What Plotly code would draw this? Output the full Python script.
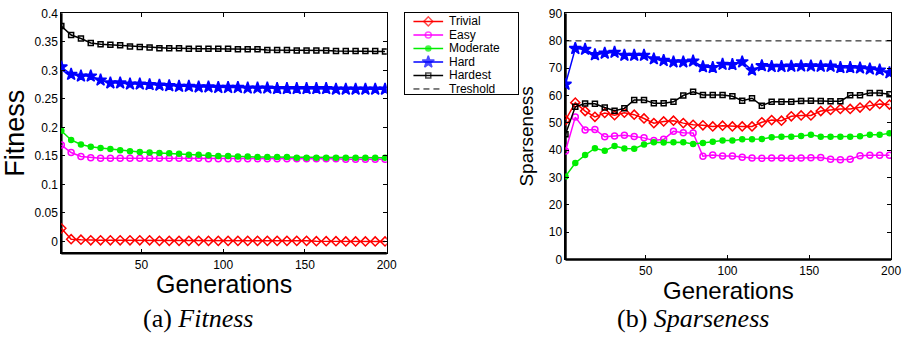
import plotly.graph_objects as go

# Generation index of each recorded sample
generations = [1, 7, 13, 19, 25, 31, 37, 43, 49, 55, 61, 67, 73, 79, 85, 91, 97,
               103, 109, 115, 121, 127, 133, 139, 145, 151, 157, 163, 169, 175,
               181, 187, 193, 199]

# Fitness per difficulty level
fit_trivial = [0.023, 0.004, 0.003, 0.002, 0.002, 0.002, 0.002, 0.002, 0.002, 0.002,
               0.001, 0.001, 0.001, 0.001, 0.001, 0.001, 0.001, 0.001, 0.001, 0.001,
               0.001, 0.001, 0.001, 0.001, 0.001, 0.001, 0.0005, 0.0005, 0.0005, 0.0,
               0.0, 0.0, 0.0, 0.0]
fit_easy = [0.169, 0.156, 0.149, 0.147, 0.146, 0.146, 0.146, 0.146, 0.146, 0.146,
            0.146, 0.146, 0.146, 0.146, 0.146, 0.145, 0.145, 0.145, 0.145, 0.145,
            0.145, 0.145, 0.145, 0.145, 0.145, 0.145, 0.145, 0.145, 0.145, 0.144,
            0.144, 0.144, 0.144, 0.144]
fit_moderate = [0.194, 0.178, 0.170, 0.166, 0.164, 0.162, 0.160, 0.158, 0.157, 0.156,
                0.155, 0.1545, 0.154, 0.152, 0.152, 0.151, 0.150, 0.150, 0.149, 0.149,
                0.148, 0.148, 0.148, 0.148, 0.147, 0.147, 0.147, 0.147, 0.147, 0.147,
                0.147, 0.147, 0.147, 0.147]
fit_hard = [0.306, 0.293, 0.290, 0.290, 0.283, 0.278, 0.278, 0.276, 0.276, 0.275,
            0.274, 0.273, 0.272, 0.272, 0.271, 0.271, 0.270, 0.270, 0.270, 0.269,
            0.269, 0.269, 0.268, 0.268, 0.268, 0.268, 0.268, 0.268, 0.267, 0.267,
            0.267, 0.267, 0.267, 0.267]
fit_hardest = [0.378, 0.362, 0.356, 0.348, 0.346, 0.345, 0.344, 0.342, 0.341, 0.340,
               0.339, 0.339, 0.339, 0.338, 0.338, 0.338, 0.338, 0.338, 0.337, 0.337,
               0.337, 0.336, 0.336, 0.336, 0.335, 0.335, 0.335, 0.335, 0.334, 0.334,
               0.334, 0.334, 0.334, 0.333]

# Sparseness per difficulty level
sp_trivial = [51.0, 57.4, 54.3, 52.2, 53.6, 52.8, 53.7, 53.0, 51.6, 49.9,
              50.5, 50.8, 49.9, 49.3, 49.1, 48.7, 48.95, 48.7, 48.7, 48.7,
              50.2, 51.0, 50.8, 52.4, 52.7, 52.7, 54.3, 54.7, 55.1, 55.1,
              55.6, 56.3, 56.9, 56.7]
sp_easy = [39.7, 52.1, 47.4, 47.6, 44.9, 45.2, 45.5, 45.0, 44.5, 43.5,
           44.0, 46.9, 46.4, 46.3, 37.8, 38.2, 37.9, 37.9, 37.4, 37.1,
           37.0, 37.1, 37.1, 37.0, 37.1, 37.2, 37.3, 36.7, 36.5, 36.7,
           38.0, 38.1, 38.1, 38.1]
sp_moderate = [30.4, 35.3, 38.2, 40.7, 39.8, 41.5, 40.6, 40.5, 42.1, 42.9,
               42.8, 42.9, 42.9, 42.3, 42.6, 43.1, 43.5, 43.5, 44.0, 44.0,
               44.1, 44.7, 44.9, 44.9, 45.2, 45.6, 44.9, 44.9, 44.9, 44.9,
               45.1, 45.6, 45.6, 46.2]
sp_hard = [64.1, 77.2, 76.9, 74.9, 75.5, 75.8, 74.7, 74.7, 74.7, 73.4,
           72.8, 72.3, 72.3, 72.6, 70.5, 70.2, 71.4, 71.3, 72.3, 69.3,
           70.9, 70.6, 70.6, 70.7, 70.8, 70.8, 70.7, 70.7, 70.2, 70.2,
           70.1, 69.7, 69.3, 68.3]
sp_hardest = [45.8, 55.9, 57.1, 57.0, 55.6, 54.4, 55.3, 58.4, 58.4, 57.2,
              57.2, 57.7, 60.0, 61.4, 60.2, 60.2, 60.2, 59.7, 58.1, 59.0,
              56.3, 57.7, 57.7, 57.7, 58.0, 58.1, 58.0, 57.9, 57.9, 60.1,
              60.1, 60.9, 60.9, 60.5]

threshold = 80
threshold_span = [1, 200]

series_names = ["Trivial", "Easy", "Moderate", "Hard", "Hardest"]
fitness_series = [fit_trivial, fit_easy, fit_moderate, fit_hard, fit_hardest]
sparse_series = [sp_trivial, sp_easy, sp_moderate, sp_hard, sp_hardest]

styles = {
    "Trivial": dict(color="#ff0000", symbol="diamond-open", size=7),
    "Easy": dict(color="#ff00ff", symbol="circle-open", size=6),
    "Moderate": dict(color="#00ee00", symbol="circle", size=5),
    "Hard": dict(color="#0000ff", symbol="star", size=9),
    "Hardest": dict(color="#000000", symbol="square-open", size=5),
}
DASH = "6px,4px"
SANS = "Liberation Sans, Arial, sans-serif"
SERIF = "Liberation Serif, Times New Roman, serif"

W, H = 918, 340
fig = go.Figure()


def marker_of(st, sizes=None):
    return dict(symbol=st["symbol"], size=sizes if sizes is not None else st["size"],
                color=st["color"], line=dict(color=st["color"], width=1.5))


for name, fit, sp in zip(series_names, fitness_series, sparse_series):
    st = styles[name]
    fig.add_trace(go.Scatter(x=generations, y=fit, name=name, mode="lines+markers",
                             line=dict(color=st["color"], width=1.5), marker=marker_of(st),
                             xaxis="x", yaxis="y", showlegend=False))
    fig.add_trace(go.Scatter(x=generations, y=sp, name=name, mode="lines+markers",
                             line=dict(color=st["color"], width=1.5), marker=marker_of(st),
                             xaxis="x2", yaxis="y2", showlegend=False))

fig.add_trace(go.Scatter(x=threshold_span, y=[threshold] * len(threshold_span),
                         name="Treshold", mode="lines",
                         line=dict(color="black", width=1, dash=DASH),
                         xaxis="x2", yaxis="y2", showlegend=False))

# Legend key box, laid out in its own pixel-scaled axes
LEG_X0, LEG_X1, LEG_Y0, LEG_Y1 = 409, 524, 6, 91
legend_labels = series_names + ["Treshold"]
row_step = 14.1
key_x = [9, 24, 39]
for i, label in enumerate(legend_labels):
    row = 9 + i * row_step
    if label in styles:
        st = styles[label]
        fig.add_trace(go.Scatter(x=key_x, y=[row] * 3, mode="lines+markers",
                                 line=dict(color=st["color"], width=1.5),
                                 marker=marker_of(st, [0, st["size"], 0]),
                                 xaxis="x3", yaxis="y3", showlegend=False,
                                 hoverinfo="skip"))
    else:
        fig.add_trace(go.Scatter(x=[key_x[0], key_x[-1]], y=[row, row], mode="lines",
                                 line=dict(color="black", width=1, dash=DASH),
                                 xaxis="x3", yaxis="y3", showlegend=False,
                                 hoverinfo="skip"))
    fig.add_annotation(text=label, x=44, y=row, xref="x3", yref="y3", showarrow=False,
                       xanchor="left", yanchor="middle", borderpad=0,
                       font=dict(family=SANS, size=12, color="black"))


def px_dom(a, b, total):
    return [a / total, b / total]


tick_font = dict(family=SANS, size=12, color="black")
axis_common = dict(showgrid=False, zeroline=False, showline=True, linecolor="black",
                   linewidth=1, mirror="ticks", ticks="inside", ticklen=4,
                   tickcolor="black", tickwidth=1, tickfont=tick_font)
hidden_axis = dict(showgrid=False, zeroline=False, showticklabels=False, ticks="",
                   showline=True, linecolor="black", linewidth=1, mirror=True,
                   fixedrange=True)

fig.update_layout(
    width=W, height=H,
    margin=dict(l=0, r=0, t=0, b=0),
    paper_bgcolor="white", plot_bgcolor="white",
    showlegend=False,
    font=dict(family=SANS, color="black"),
    xaxis=dict(domain=px_dom(62, 391, W), range=[1, 200.05],
               tickvals=[50, 100, 150, 200], anchor="y", **axis_common),
    yaxis=dict(domain=[1 - 256.7 / H, 1 - 6.5 / H], range=[-0.0205, 0.4003],
               tickvals=[0, 0.05, 0.1, 0.15, 0.2, 0.25, 0.3, 0.35, 0.4],
               ticktext=["0", "0.05", "0.1", "0.15", "0.2", "0.25", "0.3", "0.35", "0.4"],
               anchor="x",
               title=dict(text="Fitness", standoff=6, font=dict(size=27)), **axis_common),
    xaxis2=dict(domain=px_dom(571.7, 901, W), range=[1, 200.05],
                tickvals=[50, 100, 150, 200], anchor="y2", **axis_common),
    yaxis2=dict(domain=[1 - 263.3 / H, 1 - 6.7 / H], range=[0, 90.05],
                tickvals=[0, 10, 20, 30, 40, 50, 60, 70, 80, 90], anchor="x2",
                title=dict(text="Sparseness", standoff=10, font=dict(size=19)),
                **axis_common),
    xaxis3=dict(domain=px_dom(LEG_X0, LEG_X1, W), range=[0, LEG_X1 - LEG_X0],
                anchor="y3", **hidden_axis),
    yaxis3=dict(domain=[1 - LEG_Y1 / H, 1 - LEG_Y0 / H], range=[LEG_Y1 - LEG_Y0, 0],
                anchor="x3", **hidden_axis),
)

# Heavier left and bottom spines on both panels
for xr, yr in [("x domain", "y domain"), ("x2 domain", "y2 domain")]:
    fig.add_shape(type="line", xref=xr, yref=yr, x0=0, x1=0, y0=0, y1=1,
                  line=dict(color="black", width=2.5), layer="below")
    fig.add_shape(type="line", xref=xr, yref=yr, x0=0, x1=1, y0=0, y1=0,
                  line=dict(color="black", width=2.5), layer="below")

# Horizontal axis titles
fig.add_annotation(text="Generations", x=0.5, y=1 - 289 / H, xref="x domain",
                   yref="paper", showarrow=False, xanchor="center", yanchor="middle",
                   borderpad=0, font=dict(family=SANS, size=25, color="black"))
fig.add_annotation(text="Generations", x=0.5, y=1 - 296 / H, xref="x2 domain",
                   yref="paper", showarrow=False, xanchor="center", yanchor="middle",
                   borderpad=0, font=dict(family=SANS, size=24, color="black"))

# Panel captions
cap_font = dict(family=SERIF, size=26, color="black")
fig.add_annotation(text="(a) <i>Fitness</i>", x=200 / W, y=1 - 325 / H, xref="paper",
                   yref="paper", showarrow=False, font=cap_font,
                   xanchor="center", yanchor="middle")
fig.add_annotation(text="(b) <i>Sparseness</i>", x=701 / W, y=1 - 325 / H, xref="paper",
                   yref="paper", showarrow=False, font=cap_font,
                   xanchor="center", yanchor="middle")

fig.write_html("out.html")
